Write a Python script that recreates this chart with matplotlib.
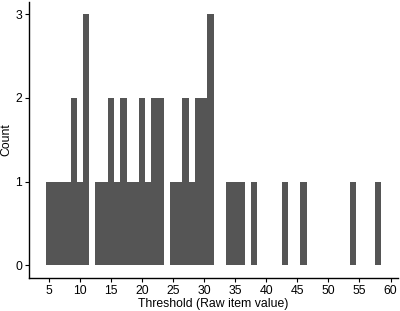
import matplotlib.pyplot as plt
import numpy as np

plt.rcParams['font.family'] = ['Liberation Sans', 'DejaVu Sans']
plt.rcParams['axes.linewidth'] = 1.0

# raw item values (bin centres) and how many fall in each
values = [5, 6, 7, 8, 9, 10, 11, 13, 14, 15, 16, 17, 18, 19, 20, 21, 22, 23,
          25, 26, 27, 28, 29, 30, 31, 34, 35, 36, 38, 43, 46, 54, 58]
counts = [1, 1, 1, 1, 2, 1, 3, 1, 1, 2, 1, 2, 1, 1, 2, 1, 2, 2,
          1, 1, 2, 1, 2, 2, 3, 1, 1, 1, 1, 1, 1, 1, 1]
x_ticks = [5, 10, 15, 20, 25, 30, 35, 40, 45, 50, 55, 60]
y_ticks = [0, 1, 2, 3]

fig = plt.figure(figsize=(4.0, 3.11), dpi=100)
ax = fig.add_axes([0.0725, 0.107, 0.9225, 0.887])

ax.bar(values, counts, width=1.0, color='#555555', edgecolor='none')

# ggplot-like 5% padding
ax.set_xlim(4.5 - 2.7, 58.5 + 2.7)
ax.set_ylim(-0.15, 3.15)
ax.set_xticks(x_ticks)
ax.set_yticks(y_ticks)

ax.tick_params(axis='both', direction='out', length=3, width=0.8,
               labelsize=8.8, colors='black', pad=2)
ax.set_xlabel('Threshold (Raw item value)', fontsize=8.8, labelpad=1)
ax.set_ylabel('Count', fontsize=8.8)
ax.yaxis.set_label_coords(-0.044, 0.5)

ax.spines['top'].set_visible(False)
ax.spines['right'].set_visible(False)

fig.savefig('out.png', dpi=100)
